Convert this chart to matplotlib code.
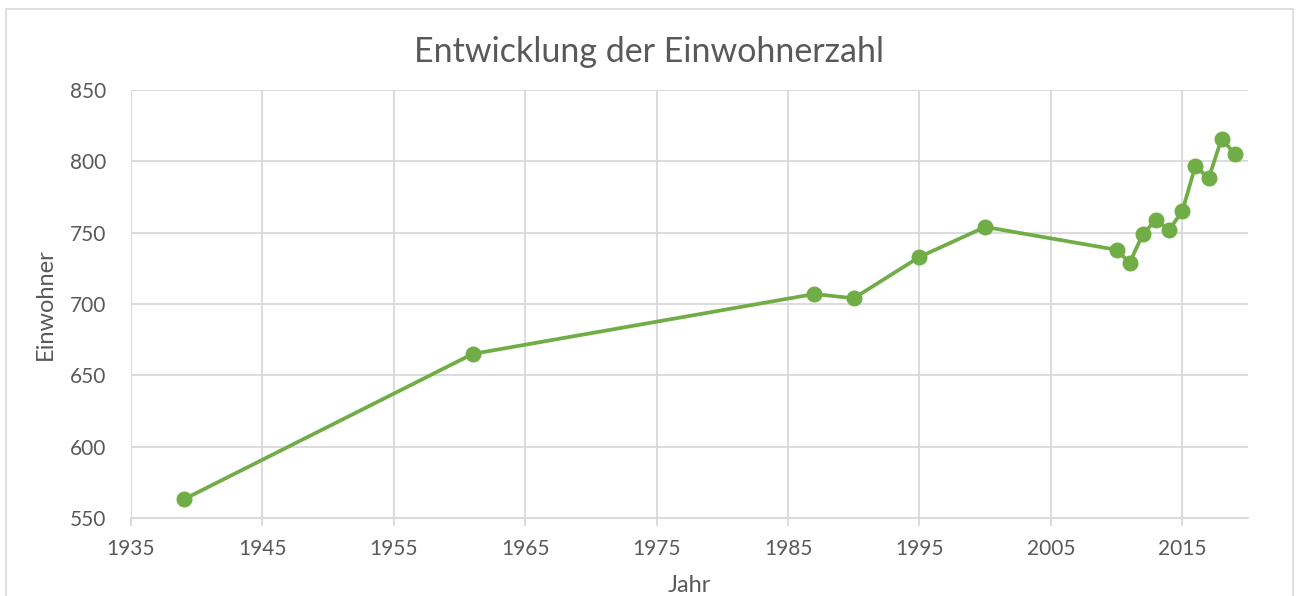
import matplotlib.pyplot as plt
from matplotlib.patches import Rectangle

# Daten
jahre = [1939, 1961, 1987, 1990, 1995, 2000, 2010, 2011, 2012, 2013, 2014, 2015, 2016, 2017, 2018, 2019]
einwohner = [563, 665, 707, 704, 733, 754, 738, 729, 749, 759, 752, 765, 797, 788, 816, 805]
x_ticks = [1935, 1945, 1955, 1965, 1975, 1985, 1995, 2005, 2015]
y_ticks = [550, 600, 650, 700, 750, 800, 850]

gruen = '#70AD47'
grau_text = '#595959'
grau_gitter = '#D9D9D9'

plt.rcParams['font.family'] = ['Lato', 'DejaVu Sans']

fig = plt.figure(figsize=(12.98, 5.96), dpi=100)
ax = fig.add_axes([131 / 1298, 1 - 518 / 596, 1117 / 1298, 428 / 596])

# Rahmen um das Diagramm
fig.patches.append(Rectangle((6 / 1298, -0.1), 1287 / 1298, 1.1 - 9 / 596,
                             transform=fig.transFigure, fill=False,
                             edgecolor=grau_gitter, linewidth=1.2))

ax.plot(jahre, einwohner, color=gruen, linewidth=2.7, marker='o',
        markersize=10.5, zorder=3)

ax.set_xlim(1935, 2020)
ax.set_ylim(550, 850)
ax.set_xticks(x_ticks)
ax.set_yticks(y_ticks)
ax.grid(True, color=grau_gitter, linewidth=1.3)
ax.set_axisbelow(True)

for side in ['top', 'right', 'left']:
    ax.spines[side].set_visible(False)
ax.spines['bottom'].set_color(grau_gitter)
ax.spines['bottom'].set_linewidth(1.3)

ax.tick_params(axis='x', colors=grau_gitter, length=6, width=1.3,
               labelcolor=grau_text, labelsize=15, pad=9)
ax.tick_params(axis='y', length=0, labelcolor=grau_text, labelsize=15, pad=18)

fig.text(0.5, 1 - 52 / 596, 'Entwicklung der Einwohnerzahl', fontsize=24.5,
         color=grau_text, ha='center', va='center')
ax.set_xlabel('Jahr', fontsize=17, color=grau_text, labelpad=12)
ax.set_ylabel('Einwohner', fontsize=17, color=grau_text, labelpad=10)

fig.savefig('out.png', dpi=100)
